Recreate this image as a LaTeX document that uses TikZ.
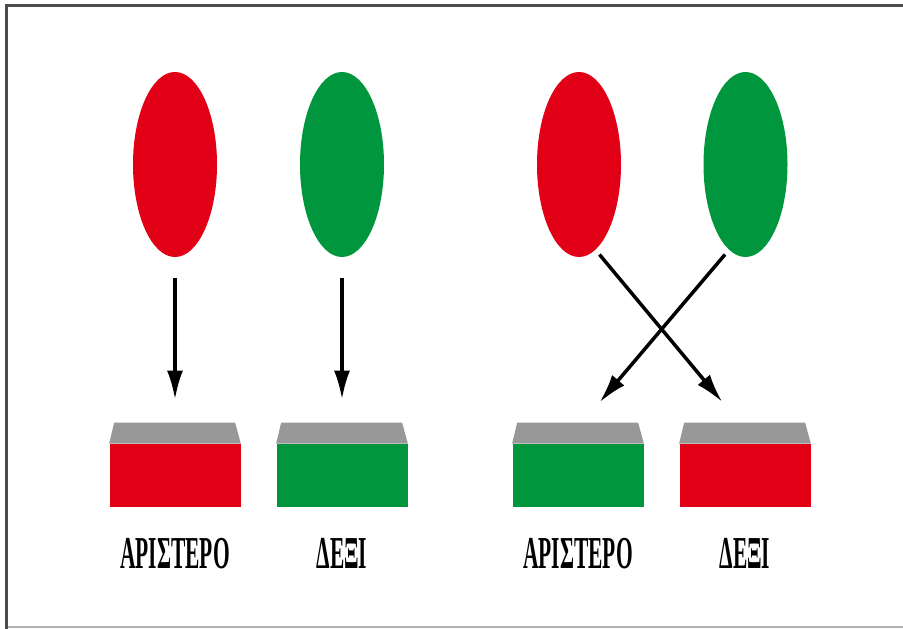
\documentclass[tikz,border=0pt]{standalone}
\usepackage{fontspec}
\setmainfont{Liberation Serif}
\usetikzlibrary{shapes.geometric,arrows.meta,positioning}

\definecolor{eyered}{RGB}{226,0,22}
\definecolor{eyegreen}{RGB}{0,150,62}
\definecolor{lidgray}{RGB}{152,152,152}
\newcommand{\grk}[1]{\scalebox{0.47}[1]{#1}}

\begin{document}
\begin{tikzpicture}[x=0.2mm, y=-0.2mm, node distance={6.2mm},
    eye/.style = {ellipse, minimum width=16.8mm, minimum height=37mm, inner sep=0pt},
    slab/.style = {rectangle, minimum width=26.2mm, minimum height=12.6mm, inner sep=0pt},
    lab/.style = {inner sep=0pt, font=\fontsize{26}{26}\selectfont\bfseries},
    arr/.style = {-{Latex[length=5.8mm, width=3.2mm]}, line width=0.7mm}]
    \useasboundingbox (0,0) rectangle (903,629);
    \draw[black!30, line width=0.5mm] (5,627) -- (903,627);
    \draw[black!70, line width=0.6mm] (6,629) -- (6,6) -- (903,6);

    \node[eye, fill=eyered] (r1) at (175,164.5) {};
    \node[eye, fill=eyegreen] (g1) at (342,164.5) {};
    \node[eye, fill=eyered] (r2) at (579,164.5) {};
    \node[eye, fill=eyegreen] (g2) at (745.5,164.5) {};

    \node[slab, fill=eyered] (b1) at (175,475.5) {};
    \node[slab, fill=eyegreen] (b2) at (342,475.5) {};
    \node[slab, fill=eyegreen] (b3) at (578,475.5) {};
    \node[slab, fill=eyered] (b4) at (745,475.5) {};
    % grey tops of the slabs
    \fill[lidgray] (b1.north west) -- ++(5,-21) -- ++(121,0) -- (b1.north east) -- cycle;
    \fill[lidgray] (b2.north west) -- ++(5,-21) -- ++(121,0) -- (b2.north east) -- cycle;
    \fill[lidgray] (b3.north west) -- ++(5,-21) -- ++(121,0) -- (b3.north east) -- cycle;
    \fill[lidgray] (b4.north west) -- ++(5,-21) -- ++(121,0) -- (b4.north east) -- cycle;

    \node[lab] (l1) [below=of b1] {\grk{ΑΡΙΣΤΕΡΟ}};
    \node[lab] (l2) [below=of b2] {\grk{ΔΕΞΙ}};
    \node[lab] (l3) [below=of b3] {\grk{ΑΡΙΣΤΕΡΟ}};
    \node[lab] (l4) [below=of b4] {\grk{ΔΕΞΙ}};

    \draw[arr, shorten <=4.2mm, shorten >=8.8mm] (r1.south) -- (b1.north);
    \draw[arr, shorten <=4.2mm, shorten >=8.8mm] (g1.south) -- (b2.north);
    \draw[arr, shorten <=1.2mm, shorten >=10.8mm] (r2.-79) -- ([xshift=2.4mm]b4.north);
    \draw[arr, shorten <=1.2mm, shorten >=10.8mm] (g2.-101) -- ([xshift=-2.7mm]b3.north);
\end{tikzpicture}
\end{document}
